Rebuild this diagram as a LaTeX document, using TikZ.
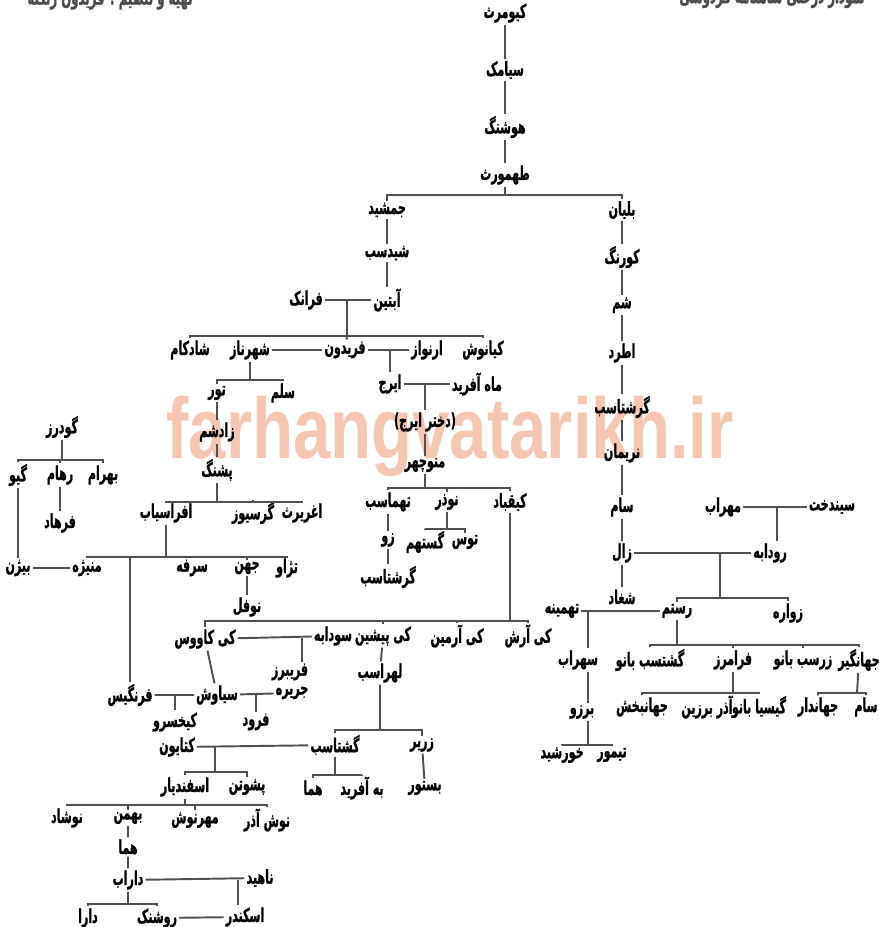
\documentclass[tikz,border=0pt]{standalone}
\usepackage{fontspec}
\newfontfamily\fa[Script=Arabic, BoldFeatures={FakeBold=1.5}]{DejaVu Sans}
\newfontfamily\wmfont{Liberation Sans}
\TeXXeTstate=1
\usetikzlibrary{positioning}
\definecolor{linegray}{RGB}{80,80,80}
\definecolor{wmorange}{RGB}{236,145,105}
\newcommand\pn[1]{\scalebox{0.7}[1.2]{\beginR#1\endR}}

\begin{document}
\begin{tikzpicture}[x=0.02cm, y=-0.02cm,
    person/.style={font=\fa\bfseries\fontsize{9}{10}\selectfont, inner sep=1pt},
    link/.style={draw=linegray, line width=1.1pt},
    header/.style={font=\fa\bfseries\fontsize{9.5}{10}\selectfont, text=black!70}
  ]
  \useasboundingbox[fill=white] (0,0) rectangle (879,927);

  % watermark and headers
  \node[font=\wmfont\bfseries\fontsize{49}{50}\selectfont, text=wmorange, opacity=0.5, anchor=base] (wm) at (450,458) {\scalebox{0.78}[1]{farhangvatarikh.ir}};
  \node[header] (hdl) at (110,-2) {\pn{تهیه و تنظیم : فریدون زنگنه}};
  \node[header] (hdr) at (772,-2) {\pn{نمودار درختی شاهنامه فردوسی}};

  % left and middle branch
  \node[person] (kiy) at (505,13) {\pn{کیومرث}};
  \node[person] (sia) at (505,70) {\pn{سیامک}};
  \node[person] (hush) at (505,127) {\pn{هوشنگ}};
  \node[person] (tah) at (505,175) {\pn{طهمورث}};
  \node[person] (jam) at (387,210) {\pn{جمشید}};
  \node[person] (bal) at (622,210) {\pn{بلیان}};
  \node[person] (shid) at (387,253) {\pn{شیدسب}};
  \node[person] (abt) at (387,300) {\pn{آبتین}};
  \node[person] (fara) at (306,300) {\pn{فرانک}};
  \node[person] (shad) at (190,350) {\pn{شادکام}};
  \node[person] (shah) at (250,350) {\pn{شهرناز}};
  \node[person] (fer) at (345,350) {\pn{فریدون}};
  \node[person] (arn) at (427,350) {\pn{ارنواز}};
  \node[person] (kian) at (483,350) {\pn{کیانوش}};
  \node[person] (iraj) at (390,384) {\pn{ایرج}};
  \node[person] (mah) at (477,384) {\pn{ماه آفرید}};
  \node[person] (dokh) at (425,422) {\pn{(دختر ایرج)}};
  \node[person] (manu) at (425,465) {\pn{منوچهر}};
  \node[person] (tur) at (217,393) {\pn{تور}};
  \node[person] (salm) at (283,393) {\pn{سلم}};
  \node[person] (zad) at (217,432) {\pn{زادشم}};
  \node[person] (pash) at (217,470) {\pn{پشنگ}};
  \node[person] (afr) at (166,513) {\pn{افراسیاب}};
  \node[person] (gars) at (253,513) {\pn{گرسیوز}};
  \node[person] (agh) at (302,513) {\pn{اغریرث}};
  \node[person] (maniz) at (87,568) {\pn{منیژه}};
  \node[person] (sorkh) at (192,568) {\pn{سرفه}};
  \node[person] (jahn) at (247,568) {\pn{جهن}};
  \node[person] (tazh) at (287,568) {\pn{تژاو}};
  \node[person] (nof) at (247,607) {\pn{نوفل}};
  \node[person] (gud) at (62,427) {\pn{گودرز}};
  \node[person] (giv) at (18,475) {\pn{گیو}};
  \node[person] (roh) at (60,475) {\pn{رهام}};
  \node[person] (bahr) at (103,475) {\pn{بهرام}};
  \node[person] (farh) at (60,523) {\pn{فرهاد}};
  \node[person] (bizh) at (18,568) {\pn{بیژن}};
  \node[person] (tahm) at (388,502) {\pn{تهماسب}};
  \node[person] (nowz) at (447,502) {\pn{نوذر}};
  \node[person] (qob) at (510,502) {\pn{کیقباد}};
  \node[person] (zow) at (388,540) {\pn{زو}};
  \node[person] (garsh) at (388,577) {\pn{گرشتاسب}};
  \node[person] (gost) at (425,542) {\pn{گستهم}};
  \node[person] (tus) at (465,542) {\pn{توس}};
  \node[person] (kavus) at (205,639) {\pn{کی کاووس}};
  \node[person] (sud) at (333,636) {\pn{سودابه}};
  \node[person] (fari) at (290,672) {\pn{فریبرز}};
  \node[person] (pish) at (383,636) {\pn{کی پیشین}};
  \node[person] (armin) at (457,636) {\pn{کی آرمین}};
  \node[person] (arash) at (528,636) {\pn{کی آرش}};
  \node[person] (siav) at (217,695) {\pn{سیاوش}};
  \node[person] (farn) at (130,695) {\pn{فرنگیس}};
  \node[person] (jar) at (292,693) {\pn{جریره}};
  \node[person] (kaykh) at (175,722) {\pn{کیخسرو}};
  \node[person] (forud) at (256,722) {\pn{فرود}};
  \node[person] (lohr) at (380,673) {\pn{لهراسب}};
  \node[person] (gosht) at (335,745) {\pn{گشتاسب}};
  \node[person] (zarir) at (422,745) {\pn{زریر}};
  \node[person] (katay) at (177,747) {\pn{کتایون}};
  \node[person] (esf) at (185,787) {\pn{اسفندیار}};
  \node[person] (pashu) at (247,787) {\pn{پشوتن}};
  \node[person] (nushad) at (67,818) {\pn{نوشاد}};
  \node[person] (bahm) at (128,818) {\pn{بهمن}};
  \node[person] (mehrn) at (195,820) {\pn{مهرنوش}};
  \node[person] (nushaz) at (267,820) {\pn{نوش آذر}};
  \node[person] (homa) at (128,847) {\pn{هما}};
  \node[person] (darab) at (128,880) {\pn{داراب}};
  \node[person] (nahid) at (260,878) {\pn{ناهید}};
  \node[person] (esk) at (245,917) {\pn{اسکندر}};
  \node[person] (dara) at (88,918) {\pn{دارا}};
  \node[person] (rosh) at (157,918) {\pn{روشنک}};
  \node[person] (homa2) at (313,788) {\pn{هما}};
  \node[person] (beh) at (362,788) {\pn{به آفرید}};
  \node[person] (bast) at (425,788) {\pn{بستور}};

  % right branch
  \node[person] (kur) at (622,257) {\pn{کورنگ}};
  \node[person] (sham) at (622,305) {\pn{شم}};
  \node[person] (atr) at (622,353) {\pn{اطرد}};
  \node[person] (garsh1) at (622,407) {\pn{گرشتاسب}};
  \node[person] (nar) at (622,453) {\pn{نریمان}};
  \node[person] (sam) at (622,507) {\pn{سام}};
  \node[person] (zal) at (622,553) {\pn{زال}};
  \node[person] (shag) at (622,597) {\pn{شغاد}};
  \node[person] (mehrab) at (723,507) {\pn{مهراب}};
  \node[person] (sind) at (832,507) {\pn{سیندخت}};
  \node[person] (rud) at (770,553) {\pn{رودابه}};
  \node[person] (rost) at (677,611) {\pn{رستم}};
  \node[person] (zav) at (788,613) {\pn{زواره}};
  \node[person] (tahmi) at (562,611) {\pn{تهمینه}};
  \node[person] (sohr) at (578,660) {\pn{سهراب}};
  \node[person] (barz) at (582,712) {\pn{برزو}};
  \node[person] (khor) at (562,755) {\pn{خورشید}};
  \node[person] (teym) at (612,755) {\pn{تیمور}};
  \node[person] (gban) at (650,660) {\pn{گشتسب بانو}};
  \node[person] (faram) at (733,660) {\pn{فرامرز}};
  \node[person] (zban) at (803,660) {\pn{زرسب بانو}};
  \node[person] (jahg) at (859,660) {\pn{جهانگیر}};
  \node[person] (jbakh) at (642,707) {\pn{جهانبخش}};
  \node[person] (azar) at (707,707) {\pn{آذر برزین}};
  \node[person] (gisia) at (759,707) {\pn{گیسیا بانو}};
  \node[person] (jahd) at (818,707) {\pn{جهاندار}};
  \node[person] (sam2) at (866,707) {\pn{سام}};

  % bus points
  \coordinate (b1) at (505,195);
  \coordinate (m1) at (347,300);
  \coordinate (b2) at (347,336);
  \coordinate (m2) at (390,350);
  \coordinate (m3) at (425,384);
  \coordinate (b3) at (250,380);
  \coordinate (b4) at (217,502);
  \coordinate (b5) at (166,557);
  \coordinate (b6) at (62,460);
  \coordinate (b7) at (425,488);
  \coordinate (b8) at (447,529);
  \coordinate (b9) at (510,621);
  \coordinate (m4) at (302,638);
  \coordinate (m5) at (175,695);
  \coordinate (m6) at (256,695);
  \coordinate (b10) at (380,730);
  \coordinate (m7) at (215,747);
  \coordinate (b11) at (215,772);
  \coordinate (b12) at (185,805);
  \coordinate (m8) at (238,880);
  \coordinate (b13) at (128,904);
  \coordinate (b14) at (335,775);
  \coordinate (m9) at (777,507);
  \coordinate (m10) at (720,553);
  \coordinate (b15) at (720,598);
  \coordinate (m11) at (588,611);
  \coordinate (b16) at (588,745);
  \coordinate (b17) at (677,645);
  \coordinate (b18) at (733,693);
  \coordinate (b19) at (857,693);

  % connectors
  \draw[link] (kiy) -- (sia) -- (hush) -- (tah);
  \draw[link] (tah) -- (b1) -| (jam);
  \draw[link] (b1) -| (bal);
  \draw[link] (jam) -- (shid) -- (abt);
  \draw[link] (fara) -- (abt);
  \draw[link] (m1) -- (b2) -| (shad);
  \draw[link] (b2) -| (kian);
  \draw[link] (b2) -- (fer);
  \draw[link] (shah) -- (fer) -- (arn);
  \draw[link] (m2) -- (iraj) -- (mah);
  \draw[link] (m3) -- (dokh) -- (manu);
  \draw[link] (shah) -- (b3) -| (tur);
  \draw[link] (b3) -| (salm);
  \draw[link] (tur) -- (zad) -- (pash);
  \draw[link] (pash) -- (b4) -| (afr);
  \draw[link] (b4) -| (gars);
  \draw[link] (b4) -| (agh);
  \draw[link] (afr) -- (b5) -| (maniz);
  \draw[link] (b5) -| (farn);
  \draw[link] (b5) -| (sorkh);
  \draw[link] (b5) -| (jahn);
  \draw[link] (b5) -| (tazh);
  \draw[link] (jahn) -- (nof);
  \draw[link] (gud) -- (b6) -| (giv);
  \draw[link] (b6) -| (roh);
  \draw[link] (b6) -| (bahr);
  \draw[link] (roh) -- (farh);
  \draw[link] (giv) -- (bizh) -- (maniz);
  \draw[link] (manu) -- (b7) -| (tahm);
  \draw[link] (b7) -| (nowz);
  \draw[link] (b7) -| (qob);
  \draw[link] (tahm) -- (zow) -- (garsh);
  \draw[link] (nowz) -- (b8) -| (gost);
  \draw[link] (b8) -| (tus);
  \draw[link] (qob) -- (b9) -| (arash);
  \draw[link] (b9) -| (armin);
  \draw[link] (b9) -| (pish);
  \draw[link] (b9) -| (kavus);
  \draw[link] (kavus) -- (sud);
  \draw[link] (m4) -- (m4 |- fari.north);
  \draw[link] (kavus) -- (siav);
  \draw[link] (farn) -- (siav) -- (jar);
  \draw[link] (m5) -- (kaykh);
  \draw[link] (m6) -- (forud);
  \draw[link] (pish) -- (lohr) -- (b10) -| (gosht);
  \draw[link] (b10) -| (zarir);
  \draw[link] (katay) -- (gosht);
  \draw[link] (m7) -- (b11) -| (esf);
  \draw[link] (b11) -| (pashu);
  \draw[link] (esf) -- (b12) -| (nushad);
  \draw[link] (b12) -| (bahm);
  \draw[link] (b12) -| (mehrn);
  \draw[link] (b12) -| (nushaz);
  \draw[link] (bahm) -- (homa) -- (darab) -- (nahid);
  \draw[link] (m8) -- (m8 |- esk.north);
  \draw[link] (darab) -- (b13) -| (dara);
  \draw[link] (b13) -| (rosh);
  \draw[link] (rosh) -- (esk);
  \draw[link] (gosht) -- (b14) -| (homa2);
  \draw[link] (b14) -| (beh);
  \draw[link] (zarir) -- (bast);

  \draw[link] (bal) -- (kur) -- (sham) -- (atr) -- (garsh1) -- (nar) -- (sam) -- (zal) -- (shag);
  \draw[link] (mehrab) -- (sind);
  \draw[link] (m9) -- (m9 |- rud.north);
  \draw[link] (zal) -- (rud);
  \draw[link] (m10) -- (b15) -| (rost);
  \draw[link] (b15) -| (zav);
  \draw[link] (tahmi) -- (rost);
  \draw[link] (m11) -- (m11 |- sohr.north);
  \draw[link] (m11 |- sohr.south) -- (m11 |- barz.north);
  \draw[link] (m11 |- barz.south) -- (b16) -| (khor);
  \draw[link] (b16) -| (teym);
  \draw[link] (rost) -- (b17) -| (gban);
  \draw[link] (b17) -| (faram);
  \draw[link] (b17) -| (zban);
  \draw[link] (b17) -| (jahg);
  \draw[link] (faram) -- (b18) -| (jbakh);
  \draw[link] (b18) -| (azar);
  \draw[link] (b18) -| (gisia);
  \draw[link] (jahg) -- (b19) -| (jahd);
  \draw[link] (b19) -| (sam2);
\end{tikzpicture}
\end{document}
